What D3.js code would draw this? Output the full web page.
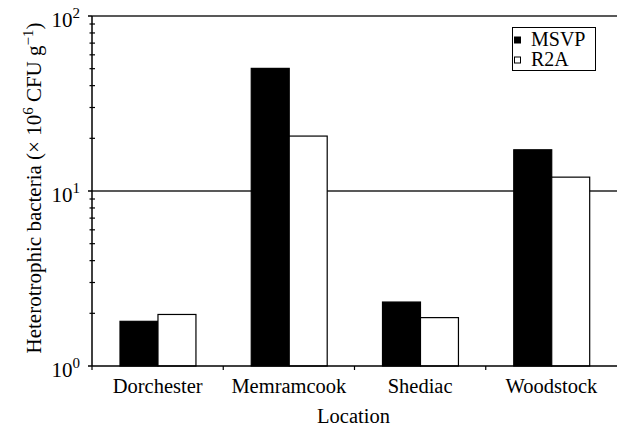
<!DOCTYPE html>
<html><head><meta charset="utf-8">
<script src="https://cdn.jsdelivr.net/npm/d3@7"></script>
<style>body{margin:0;background:#fff}svg{display:block}</style>
</head><body>
<svg id="c" width="620" height="427" font-family="'Liberation Serif', 'Times New Roman', Times, serif"></svg>
<script>
const categories = ["Dorchester","Memramcook","Shediac","Woodstock"];
const seriesNames = ["MSVP","R2A"];
const msvp = [1.80, 50.2, 2.32, 17.2];
const r2a  = [1.97, 20.6, 1.89, 12.0];
const yTickExps = [0,1,2];

const svg = d3.select("#c");
const m = {l:92, r:617, t:16, b:366};
const x = d3.scaleBand().domain(categories).range([m.l, m.r]).paddingInner(0).paddingOuter(0);
const y = d3.scaleLog().domain([1,100]).range([m.b, m.t]);
const inner = d3.scaleBand().domain(seriesNames).range([28, x.bandwidth()-27.3]);

// gridlines at decades
svg.append("g").selectAll("line").data([10,100]).join("line")
  .attr("x1", m.l).attr("x2", m.r).attr("y1", d=>y(d)).attr("y2", d=>y(d))
  .attr("stroke","#222").attr("stroke-width",1.5);

// bars
const data = categories.map((c,i)=>({c, vals:[{s:"MSVP",v:msvp[i]},{s:"R2A",v:r2a[i]}]}));
const g = svg.append("g");
data.forEach(d=>{
  g.selectAll(null).data(d.vals).join("rect")
    .attr("x", v=>x(d.c)+inner(v.s)).attr("width", inner.bandwidth())
    .attr("y", v=>y(v.v)).attr("height", v=>y(1)-y(v.v))
    .attr("fill", v=>v.s==="MSVP"?"#000":"#fff")
    .attr("stroke","#000").attr("stroke-width",1.2);
});

// y axis
const minor = [];
for (let e=0;e<2;e++) for (let k=2;k<=9;k++) minor.push(k*Math.pow(10,e));
const ya = svg.append("g");
ya.append("line").attr("x1",m.l).attr("x2",m.l).attr("y1",m.t).attr("y2",m.b).attr("stroke","#000").attr("stroke-width",1.5);
ya.selectAll(".mn").data(minor).join("line").attr("x1",m.l-2.5).attr("x2",m.l+3)
  .attr("y1",d=>y(d)).attr("y2",d=>y(d)).attr("stroke","#000").attr("stroke-width",1.2);
ya.selectAll(".mj").data(yTickExps).join("line").attr("x1",m.l-4).attr("x2",m.l)
  .attr("y1",d=>y(Math.pow(10,d))).attr("y2",d=>y(Math.pow(10,d))).attr("stroke","#000").attr("stroke-width",1.5);
const tl = ya.selectAll(".tl").data(yTickExps).join("text")
  .attr("x", 80).attr("y", d=>y(Math.pow(10,d))+10.5).attr("text-anchor","end").attr("font-size",21);
tl.append("tspan").text("10");
tl.append("tspan").attr("dy",-9).attr("font-size",15).text(d=>d);

// x axis
const xa = svg.append("g");
xa.append("line").attr("x1",m.l).attr("x2",m.r).attr("y1",m.b).attr("y2",m.b).attr("stroke","#000").attr("stroke-width",1.5);
xa.selectAll(".xt").data(categories).join("line")
  .attr("x1",d=>x(d)).attr("x2",d=>x(d)).attr("y1",m.b).attr("y2",m.b+4).attr("stroke","#000").attr("stroke-width",1.2);
xa.selectAll(".xl").data(categories).join("text")
  .attr("x",d=>x(d)+x.bandwidth()/2).attr("y",393).attr("text-anchor","middle").attr("font-size",20.5).text(d=>d);
svg.append("text").attr("x",353.5).attr("y",423).attr("text-anchor","middle").attr("font-size",20.5).text("Location");

// y title
const yt = svg.append("text").attr("transform",`translate(41,188) rotate(-90)`)
  .attr("text-anchor","middle").attr("font-size",21);
yt.append("tspan").text("Heterotrophic bacteria (× 10");
yt.append("tspan").attr("dy",-8).attr("font-size",15).text("6");
yt.append("tspan").attr("dy",8).text(" CFU g");
yt.append("tspan").attr("dy",-8).attr("font-size",15).text("−1");
yt.append("tspan").attr("dy",8).text(")");

// legend
const lg = svg.append("g");
lg.append("rect").attr("x",512.5).attr("y",27.5).attr("width",83).attr("height",43).attr("fill","#fff").attr("stroke","#000").attr("stroke-width",1);
lg.selectAll(".ls").data(seriesNames).join("rect")
  .attr("x",514.5).attr("y",(d,i)=>37+i*20).attr("width",6).attr("height",6)
  .attr("fill",(d,i)=>i===0?"#000":"#fff").attr("stroke","#000").attr("stroke-width",1);
lg.selectAll(".lt").data(seriesNames).join("text")
  .attr("x",531).attr("y",(d,i)=>45.5+i*20).attr("font-size",20).text(d=>d);
</script>
</body></html>
